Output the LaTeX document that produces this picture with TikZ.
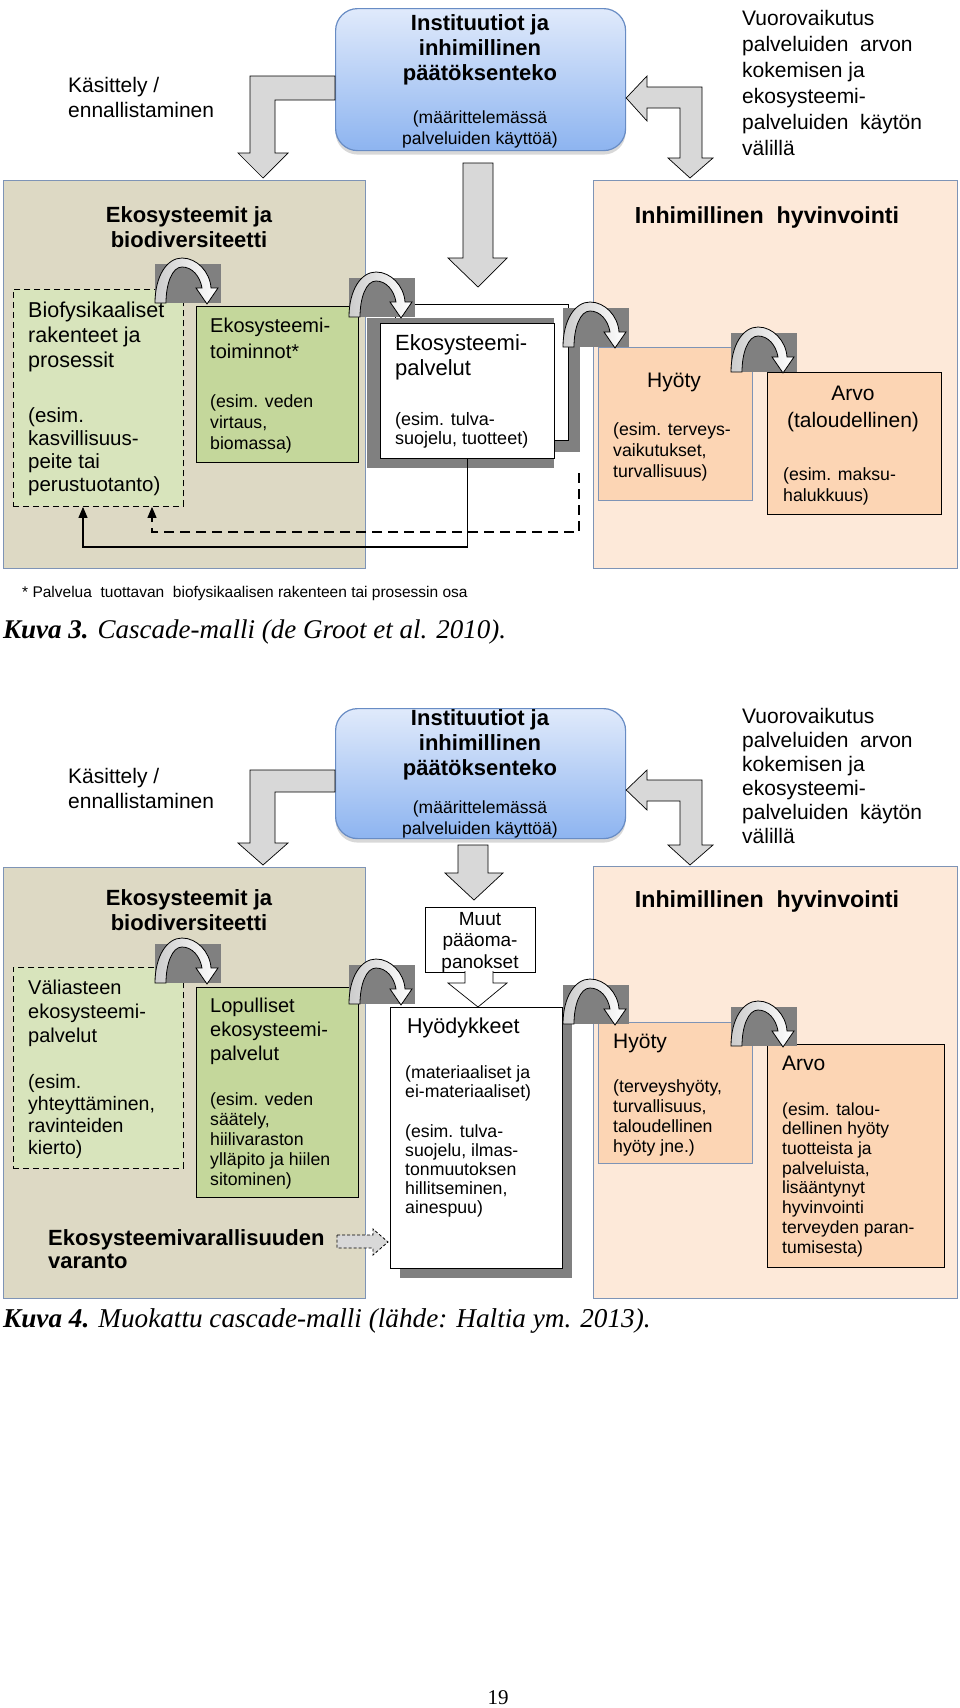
\documentclass[tikz,border=0pt]{standalone}
\usepackage{fontspec}
\setmainfont{Liberation Sans}
\newfontfamily\capserif{Liberation Serif}
\usetikzlibrary{arrows.meta, positioning, shadows, calc}

\definecolor{ekofill}{RGB}{221,217,196}
\definecolor{hyvfill}{RGB}{253,233,217}
\definecolor{paleleaf}{RGB}{216,228,188}
\definecolor{leaf}{RGB}{196,215,155}
\definecolor{peach}{RGB}{252,213,180}
\definecolor{frame}{RGB}{126,148,182}
\definecolor{sqgray}{RGB}{128,128,128}
\definecolor{arrowgray}{RGB}{216,216,216}
\definecolor{insttop}{RGB}{224,234,251}
\definecolor{instbot}{RGB}{141,180,240}
\definecolor{instframe}{RGB}{104,140,196}

% gray square with the bent arrow over it, #1 = top left corner
\newcommand{\bendarrow}[1]{%
  \begin{scope}[shift={(#1)}]
    \fill[sqgray] (0,0) rectangle (66,39);
    \draw[line width=0.8pt, left color=gray!40, right color=white]
      (0,39) .. controls (0,12) and (12,-6) .. (27,-6)
      .. controls (42,-6) and (55,8) .. (56,24)
      -- (63,24) -- (52,40) -- (41,24) -- (47,24)
      .. controls (45,12) and (37,3) .. (27,3)
      .. controls (17,3) and (11,20) .. (11,39) -- cycle;
  \end{scope}}

\begin{document}
\begin{tikzpicture}[
  x=1pt, y=-1pt,
  every node/.style={inner sep=0pt},
  bigbox/.style={draw=frame, line width=1.3pt, anchor=north west},
  subbox/.style={draw=black, line width=0.9pt, anchor=north west},
  instbox/.style={draw=instframe, line width=1.2pt, rounded corners=22pt,
                  top color=insttop, bottom color=instbot, anchor=north west,
                  drop shadow={shadow xshift=0pt, shadow yshift=-4pt, opacity=0.3}},
  blockarrow/.style={draw=black, fill=arrowgray, line width=0.7pt},
  txt/.style={anchor=base west, align=left, font=\fontsize{21}{25}\selectfont},
  subtxt/.style={anchor=base west, align=left, font=\fontsize{17.7}{21}\selectfont},
  headtxt/.style={anchor=base, align=center, font=\fontsize{22}{25}\selectfont\bfseries},
  feedback/.style={line width=1.2pt, -{Triangle[length=11pt, width=9pt]}}
]
\fill[white] (0,0) rectangle (960,1708);
\useasboundingbox (0,0) rectangle (960,1708);

% ---------------- Kuva 3 ----------------
\node[instbox, minimum width=290, minimum height=142] (inst1) at (335,8) {};
\node[bigbox, fill=ekofill, minimum width=362, minimum height=388] (eko1) at (3,180) {};
\node[bigbox, fill=hyvfill, minimum width=364, minimum height=388] (hyv1) at (593,180) {};
\node[subbox, fill=paleleaf, dash pattern=on 6pt off 4pt,
      minimum width=170, minimum height=217] (bio1) at (13,289) {};
\node[subbox, fill=leaf, minimum width=162, minimum height=156] (fun1) at (196,306) {};
\fill[sqgray] (407,316) rectangle (580,452);
\node[subbox, fill=white, minimum width=173, minimum height=136] (palvb1) at (395,304) {};
\fill[sqgray] (367,318) rectangle (554,468);
\node[subbox, fill=white, minimum width=174, minimum height=135] (palv1) at (380,323) {};
\node[subbox, draw=frame, fill=peach, minimum width=154, minimum height=153] (hyoty1) at (598,347) {};
\node[subbox, fill=peach, minimum width=174, minimum height=142] (arvo1) at (767,372) {};

\bendarrow{155,264}
\bendarrow{349,278}
\bendarrow{563,308}
\bendarrow{731,333}

\draw[blockarrow] (inst1.west |- 0,76) -- (250,76) -- (250,153) -- (238,153) -- (263,178)
  -- (288,153) -- (275,153) -- (275,100) -- (inst1.west |- 0,100) -- cycle;
\draw[blockarrow] (inst1.east |- 0,98) -- (647,76) -- (647,87) -- (702,87) -- (702,158)
  -- (713,158) -- (690,178) -- (668,158) -- (680,158) -- (680,108) -- (647,108)
  -- (647,121) -- cycle;
\draw[blockarrow] (463,163) -- (463,258) -- (448,258) -- (478,287) -- (507,258)
  -- (493,258) -- (493,163) -- cycle;

\draw[feedback] (palv1.south) -- ++(0,88) -| ([xshift=70]bio1.south west);
\coordinate (dashfrom) at (579,473);
\draw[feedback, dash pattern=on 10pt off 6pt] (dashfrom) -- (579,532)
  -| ([xshift=139]bio1.south west);

\node[txt] (kas1) at (68,117) {Käsittely /\\ennallistaminen};
\node[txt, font=\fontsize{21}{26}\selectfont] (vuo1) at (742,155)
  {Vuorovaikutus\\palveluiden\ \ arvon\\kokemisen ja\\ekosysteemi-\\palveluiden\ \ käytön\\välillä};
\node[headtxt] (inst1t) at (480,80) {Instituutiot ja\\inhimillinen\\päätöksenteko};
\node[anchor=base, align=center, font=\fontsize{17.5}{21}\selectfont] (inst1s) at (480,144)
  {(määrittelemässä\\palveluiden käyttöä)};
\node[headtxt] (eko1t) at (189,247) {Ekosysteemit ja\\biodiversiteetti};
\node[headtxt, font=\fontsize{23.2}{25}\selectfont\bfseries] (hyv1t) at (767,223)
  {Inhimillinen\ \ hyvinvointi};
\node[txt, font=\fontsize{21.5}{25}\selectfont] (bio1t) at (28,367) {Biofysikaaliset\\rakenteet ja\\prosessit};
\node[txt, font=\fontsize{20.5}{23}\selectfont] (bio1s) at (28,491)
  {(esim.\\kasvillisuus-\\peite tai\\perustuotanto)};
\node[txt, font=\fontsize{20}{26}\selectfont] (fun1t) at (210,358) {Ekosysteemi-\\toiminnot*};
\node[subtxt] (fun1s) at (210,449) {(esim. veden\\virtaus,\\biomassa)};
\node[txt, font=\fontsize{22}{25}\selectfont] (palv1t) at (395,375) {Ekosysteemi-\\palvelut};
\node[subtxt, font=\fontsize{18}{19}\selectfont] (palv1s) at (395,444) {(esim. tulva-\\suojelu, tuotteet)};
\node[anchor=base, font=\fontsize{21}{25}\selectfont] (hyoty1t) at (674,387) {Hyöty};
\node[subtxt] (hyoty1s) at (613,477) {(esim. terveys-\\vaikutukset,\\turvallisuus)};
\node[anchor=base, align=center, font=\fontsize{21}{27}\selectfont] (arvo1t) at (853,427)
  {Arvo\\(taloudellinen)};
\node[subtxt] (arvo1s) at (783,501) {(esim. maksu-\\halukkuus)};
\node[anchor=base west, font=\fontsize{15.5}{18}\selectfont] (note1) at (22,597)
  {* Palvelua\ \ tuottavan\ \ biofysikaalisen rakenteen tai prosessin osa};
\node[anchor=base west, font=\fontsize{27}{32}\selectfont\capserif] (cap1) at (3,638)
  {\bfseries\itshape Kuva 3. \mdseries Cascade-malli (de Groot et al. 2010).};

% ---------------- Kuva 4 ----------------
\node[instbox, minimum width=290, minimum height=130] (inst2) at (335,708) {};
\node[bigbox, fill=ekofill, minimum width=362, minimum height=431] (eko2) at (3,867) {};
\node[bigbox, fill=hyvfill, minimum width=364, minimum height=432] (hyv2) at (593,866) {};
\node[subbox, fill=paleleaf, dash pattern=on 6pt off 4pt,
      minimum width=170, minimum height=201] (vali2) at (13,967) {};
\node[subbox, fill=leaf, minimum width=162, minimum height=210] (lop2) at (196,987) {};
\node[subbox, fill=white, minimum width=110, minimum height=65] (muut2) at (425,907) {};
\fill[sqgray] (400,1017) rectangle (572,1278);
\node[subbox, fill=white, minimum width=172, minimum height=261] (hyod2) at (390,1007) {};
\node[subbox, draw=frame, fill=peach, minimum width=154, minimum height=141] (hyoty2) at (598,1022) {};
\node[subbox, fill=peach, minimum width=177, minimum height=223] (arvo2) at (767,1044) {};

\bendarrow{155,944}
\bendarrow{349,965}
\bendarrow{563,985}
\bendarrow{731,1007}

\draw[blockarrow] (inst2.west |- 0,770) -- (250,770) -- (250,843) -- (238,843) -- (263,865)
  -- (288,843) -- (275,843) -- (275,792) -- (inst2.west |- 0,792) -- cycle;
\draw[blockarrow] (inst2.east |- 0,790) -- (647,770) -- (647,780) -- (702,780) -- (702,845)
  -- (713,845) -- (690,865) -- (668,845) -- (680,845) -- (680,801) -- (647,801)
  -- (647,810) -- cycle;
\draw[blockarrow] (458,845) -- (458,873) -- (445,873) -- (474,900) -- (503,873)
  -- (488,873) -- (488,845) -- cycle;
\draw[line width=0.7pt, fill=white] (465,971) -- (465,983) -- (448,983) -- (478,1007)
  -- (507,983) -- (493,983) -- (493,971);
\draw[line width=0.8pt, fill=arrowgray, dash pattern=on 3pt off 2pt]
  (337,1235) -- (373,1235) -- (373,1229) -- (388,1242) -- (373,1255) -- (373,1248)
  -- (337,1248) -- cycle;

\node[txt] (kas2) at (68,808) {Käsittely /\\ennallistaminen};
\node[txt, font=\fontsize{21}{24}\selectfont] (vuo2) at (742,843)
  {Vuorovaikutus\\palveluiden\ \ arvon\\kokemisen ja\\ekosysteemi-\\palveluiden\ \ käytön\\välillä};
\node[headtxt] (inst2t) at (480,775) {Instituutiot ja\\inhimillinen\\päätöksenteko};
\node[anchor=base, align=center, font=\fontsize{17.5}{21}\selectfont] (inst2s) at (480,834)
  {(määrittelemässä\\palveluiden käyttöä)};
\node[headtxt] (eko2t) at (189,930) {Ekosysteemit ja\\biodiversiteetti};
\node[headtxt, font=\fontsize{23.2}{25}\selectfont\bfseries] (hyv2t) at (767,907)
  {Inhimillinen\ \ hyvinvointi};
\node[txt, font=\fontsize{20}{24}\selectfont] (vali2t) at (28,1042) {Väliasteen\\ekosysteemi-\\palvelut};
\node[txt, font=\fontsize{19.5}{22}\selectfont] (vali2s) at (28,1154)
  {(esim.\\yhteyttäminen,\\ravinteiden\\kierto)};
\node[txt, font=\fontsize{20}{24}\selectfont] (lop2t) at (210,1060) {Lopulliset\\ekosysteemi-\\palvelut};
\node[subtxt, font=\fontsize{17.7}{20}\selectfont] (lop2s) at (210,1185)
  {(esim. veden\\säätely,\\hiilivaraston\\ylläpito ja hiilen\\sitominen)};
\node[anchor=base, align=center, font=\fontsize{19}{21.5}\selectfont] (muut2t) at (480,968)
  {Muut\\pääoma-\\panokset};
\node[txt, font=\fontsize{21.5}{25}\selectfont] (hyod2t) at (407,1033) {Hyödykkeet};
\node[subtxt, font=\fontsize{17.7}{19}\selectfont] (hyod2s) at (405,1097)
  {(materiaaliset ja\\ei-materiaaliset)};
\node[subtxt, font=\fontsize{17.7}{19}\selectfont] (hyod2e) at (405,1213)
  {(esim. tulva-\\suojelu, ilmas-\\tonmuutoksen\\hillitseminen,\\ainespuu)};
\node[txt, font=\fontsize{22}{23}\selectfont\bfseries] (varanto) at (48,1268)
  {Ekosysteemivarallisuuden\\varanto};
\node[txt] (hyoty2t) at (613,1048) {Hyöty};
\node[subtxt, font=\fontsize{17.7}{20}\selectfont] (hyoty2s) at (613,1152)
  {(terveyshyöty,\\turvallisuus,\\taloudellinen\\hyöty jne.)};
\node[txt] (arvo2t) at (782,1070) {Arvo};
\node[subtxt, font=\fontsize{17.5}{19.7}\selectfont] (arvo2s) at (782,1253)
  {(esim. talou-\\dellinen hyöty\\tuotteista ja\\palveluista,\\lisääntynyt\\hyvinvointi\\terveyden paran-\\tumisesta)};
\node[anchor=base west, font=\fontsize{27.2}{32}\selectfont\capserif] (cap2) at (3,1327)
  {\bfseries\itshape Kuva 4. \mdseries Muokattu cascade-malli (lähde: Haltia ym. 2013).};

\node[anchor=base, font=\fontsize{21}{25}\selectfont\capserif] (pnum) at (498,1704) {19};
\end{tikzpicture}
\end{document}
